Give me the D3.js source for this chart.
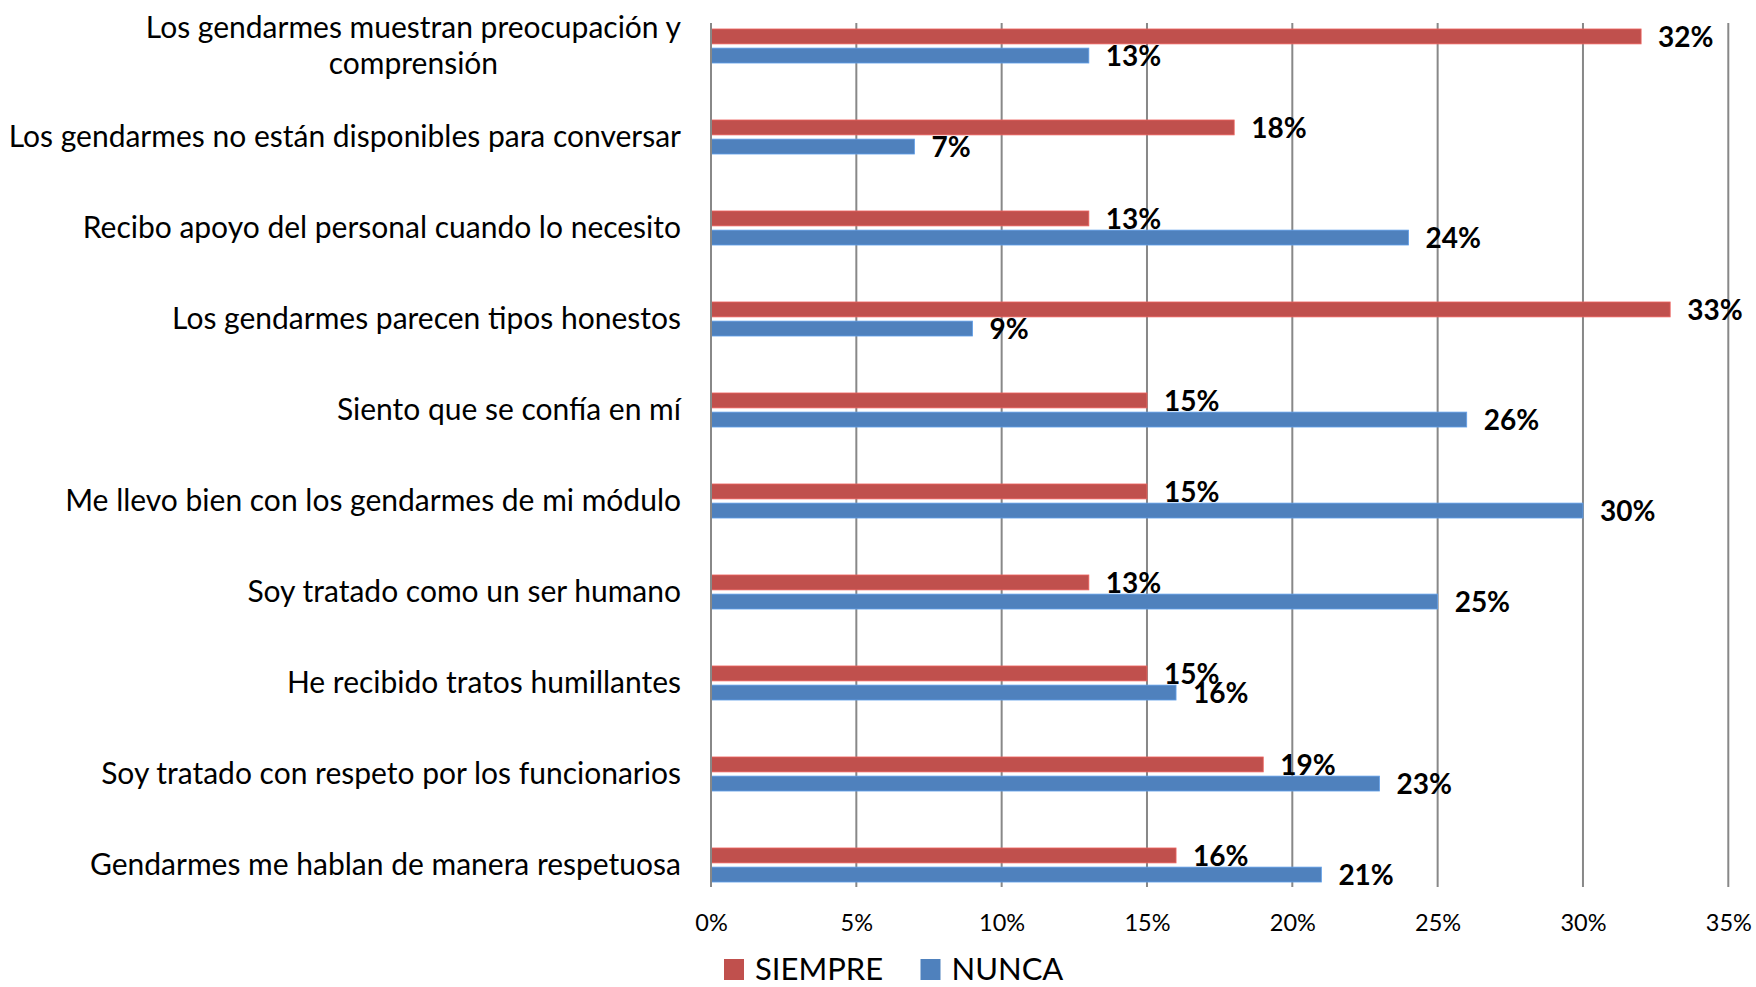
<!DOCTYPE html>
<html>
<head>
<meta charset="utf-8">
<script src="https://cdn.jsdelivr.net/npm/d3@7"></script>
<style>
  html, body { margin: 0; padding: 0; background: #fff; }
  svg { display: block; font-family: Lato, "Open Sans", sans-serif; }
</style>
</head>
<body>
<svg width="1756" height="987"></svg>
<script>
// categories, top to bottom
var categories = [
  'Los gendarmes muestran preocupación y comprensión',
  'Los gendarmes no están disponibles para conversar',
  'Recibo apoyo del personal cuando lo necesito',
  'Los gendarmes parecen tipos honestos',
  'Siento que se confía en mí',
  'Me llevo bien con los gendarmes de mi módulo',
  'Soy tratado como un ser humano',
  'He recibido tratos humillantes',
  'Soy tratado con respeto por los funcionarios',
  'Gendarmes me hablan de manera respetuosa'
]
// labels split where the original wraps
var categoryLines = [
  ['Los gendarmes muestran preocupación y', 'comprensión'],
  ['Los gendarmes no están disponibles para conversar'],
  ['Recibo apoyo del personal cuando lo necesito'],
  ['Los gendarmes parecen tipos honestos'],
  ['Siento que se confía en mí'],
  ['Me llevo bien con los gendarmes de mi módulo'],
  ['Soy tratado como un ser humano'],
  ['He recibido tratos humillantes'],
  ['Soy tratado con respeto por los funcionarios'],
  ['Gendarmes me hablan de manera respetuosa']
]
var seriesNames = ['SIEMPRE', 'NUNCA']
var siempre = [0.32, 0.18, 0.13, 0.33, 0.15, 0.15, 0.13, 0.15, 0.19, 0.16]
var nunca = [0.13, 0.07, 0.24, 0.09, 0.26, 0.30, 0.25, 0.16, 0.23, 0.21]
var xTicks = [0, 0.05, 0.10, 0.15, 0.20, 0.25, 0.30, 0.35]

var colors = { SIEMPRE: '#C0504D', NUNCA: '#4F81BD' }

var svg = d3.select('svg')

var x = d3.scaleLinear().domain([0, 0.35]).range([711, 1728.3])

var y0 = d3.scaleBand()
  .domain(categories)
  .range([0.5, 910.5])
  .paddingInner(0.626)
  .paddingOuter(0.313)

var y1 = d3.scaleBand()
  .domain(seriesNames)
  .range([0, y0.bandwidth()])
  .paddingInner(0.22)

var gridTop = 23
var gridBottom = 887

// vertical gridlines
var gridG = svg.append('g').attr('class', 'grid')
gridG.selectAll('line')
  .data(xTicks)
  .enter().append('line')
  .attr('x1', function (d) { return x(d) })
  .attr('x2', function (d) { return x(d) })
  .attr('y1', gridTop)
  .attr('y2', gridBottom)
  .attr('stroke', '#888888')
  .attr('stroke-width', 2)

// x axis tick labels
var xAxis = d3.axisBottom(x)
  .tickValues(xTicks)
  .tickFormat(d3.format('.0%'))
  .tickSize(0)
  .tickPadding(0)

var axisG = svg.append('g')
  .attr('transform', 'translate(0,' + 913 + ')')
  .call(xAxis)
axisG.select('.domain').remove()
axisG.selectAll('text')
  .attr('dy', null)
  .attr('y', 18)
  .attr('fill', '#000')
  .style('font-family', 'Lato, sans-serif')
  .style('font-size', '23.5px')

// rows
var rows = categories.map(function (c, i) {
  return { cat: c, lines: categoryLines[i], values: [
    { name: 'SIEMPRE', value: siempre[i] },
    { name: 'NUNCA', value: nunca[i] }
  ] }
})

var rowG = svg.append('g').attr('class', 'bars')
  .selectAll('g')
  .data(rows)
  .enter().append('g')
  .attr('transform', function (d) { return 'translate(0,' + y0(d.cat) + ')' })

rowG.selectAll('rect')
  .data(function (d) { return d.values })
  .enter().append('rect')
  .attr('x', x(0))
  .attr('y', function (d) { return y1(d.name) })
  .attr('width', function (d) { return x(d.value) - x(0) })
  .attr('height', y1.bandwidth())
  .attr('fill', function (d) { return colors[d.name] })
  .attr('stroke', function (d) { return d3.color(colors[d.name]).brighter(0.6) })
  .attr('stroke-width', 0.8)

rowG.selectAll('text.value')
  .data(function (d) { return d.values })
  .enter().append('text')
  .attr('class', 'value')
  .attr('x', function (d) { return x(d.value) + 17 })
  .attr('y', function (d) { return y1(d.name) + y1.bandwidth() / 2 + 10.5 })
  .attr('font-size', 28)
  .attr('font-weight', 'bold')
  .attr('fill', '#000')
  .text(function (d) { return Math.round(d.value * 100) + '%' })

// category labels: block right-aligned, wrapped lines centred on each other
var lineGap = 37
var labelRight = 681
rowG.append('text')
  .attr('class', 'cat')
  .attr('font-size', 30)
  .attr('fill', '#000')
  .each(function (d) {
    var t = d3.select(this)
    var n = d.lines.length
    var mid = y0.bandwidth() / 2 + 10
    var spans = d.lines.map(function (line, k) {
      return t.append('tspan')
        .attr('y', mid + (k - (n - 1) / 2) * lineGap)
        .text(line)
    })
    var widths = spans.map(function (s) { return s.node().getComputedTextLength() })
    var maxW = d3.max(widths)
    var centre = labelRight - maxW / 2
    spans.forEach(function (s, k) {
      s.attr('x', centre - widths[k] / 2)
    })
  })

// category axis line
svg.append('line')
  .attr('x1', x(0)).attr('x2', x(0))
  .attr('y1', gridTop).attr('y2', gridBottom)
  .attr('stroke', '#888888')
  .attr('stroke-width', 2)

// legend
var legend = svg.append('g').attr('class', 'legend')
var legendX = { SIEMPRE: 724, NUNCA: 920.5 }
seriesNames.forEach(function (name) {
  var g = legend.append('g').attr('transform', 'translate(' + legendX[name] + ',959)')
  g.append('rect')
    .attr('width', 20)
    .attr('height', 21)
    .attr('fill', colors[name])
  g.append('text')
    .attr('x', 31)
    .attr('y', 21)
    .attr('font-size', 31)
    .attr('fill', '#000')
    .text(name)
})
</script>
</body>
</html>
